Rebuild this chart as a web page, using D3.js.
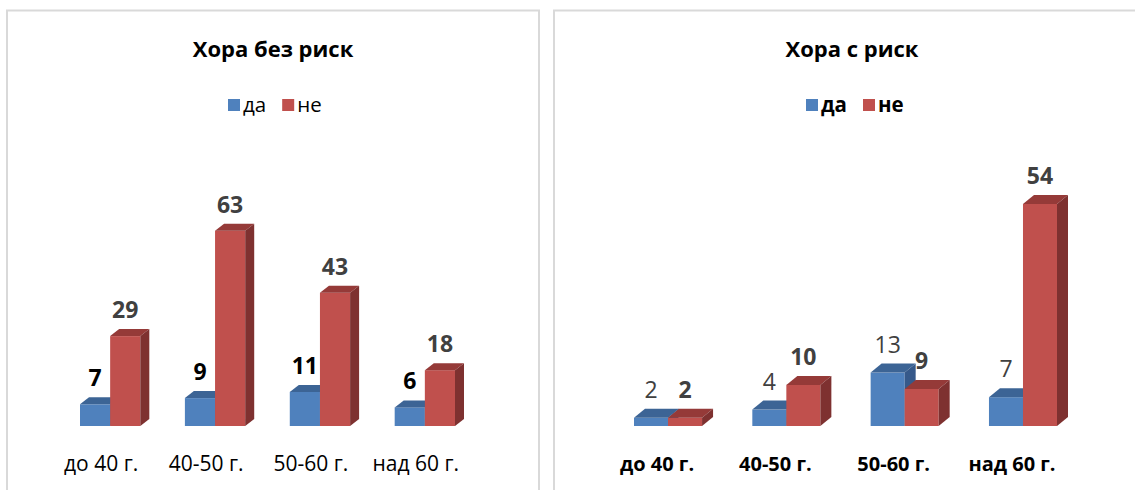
<!DOCTYPE html>
<html>
<head>
<meta charset="utf-8">
<script src="https://cdn.jsdelivr.net/npm/d3@7"></script>
<style>
  body { margin: 0; background: #fff; }
  svg { display: block; font-family: "Open Sans", "Noto Sans", sans-serif; }
</style>
</head>
<body>
<div id="chart"></div>
<script>
const categories = ["до 40 г.", "40-50 г.", "50-60 г.", "над 60 г."];
const seriesNames = ["да", "не"];
const noRiskYes = [7, 9, 11, 6];
const noRiskNo = [29, 63, 43, 18];
const riskYes = [2, 4, 13, 7];
const riskNo = [2, 10, 9, 54];

const W = 1135, H = 490;
const svg = d3.select("#chart").append("svg")
    .attr("width", W)
    .attr("height", H);

const colors = {
    front: ["#4f81bd", "#c0504d"],
    top: ["#3c6495", "#953a38"],
    side: ["#36598a", "#7e3130"]
};

const panels = [
    {
        box: [7, 10.5, 532, 500], title: "Хора без риск", titleX: 273,
        yes: noRiskYes, no: noRiskNo, yMax: 70, yTop: 209, xRange: [80, 455],
        legendX: 228, depth: [9, 7],
        catWeight: "normal", legendWeight: "normal",
        labelStyle: [{fill: "#000", weight: "bold"}, {fill: "#404040", weight: "bold"}]
    },
    {
        box: [554, 10.5, 600, 500], title: "Хора с риск", titleX: 852,
        yes: riskYes, no: riskNo, yMax: 60, yTop: 179.3, xRange: [634, 1057],
        legendX: 806, depth: [11, 9],
        catWeight: "bold", legendWeight: "bold",
        labelStyle: [{fill: "#404040", weight: "normal"}, {fill: "#404040", weight: "bold"}]
    }
];

const baseY = 426;

panels.forEach(p => {
    const g = svg.append("g");

    // рамка
    g.append("rect")
        .attr("x", p.box[0]).attr("y", p.box[1])
        .attr("width", p.box[2]).attr("height", p.box[3])
        .attr("fill", "none")
        .attr("stroke", "#d9d9d9")
        .attr("stroke-width", 2);

    g.append("text")
        .attr("x", p.titleX)
        .attr("y", 57)
        .attr("text-anchor", "middle")
        .style("font-size", "22px")
        .style("font-weight", "bold")
        .text(p.title);

    // легенда
    const legend = g.append("g").attr("transform", `translate(${p.legendX},0)`);
    let lx = 0;
    seriesNames.forEach((name, i) => {
        legend.append("rect")
            .attr("x", lx).attr("y", 99)
            .attr("width", 12).attr("height", 12)
            .attr("fill", colors.front[i]);
        const t = legend.append("text")
            .attr("x", lx + 15)
            .attr("y", 112)
            .style("font-size", "20.5px")
            .style("font-weight", p.legendWeight)
            .text(name);
        lx += 15 + t.node().getComputedTextLength() + 16;
    });

    const x = d3.scaleBand()
        .domain(categories)
        .range(p.xRange)
        .paddingInner(0.425)
        .paddingOuter(0);

    const xs = d3.scaleBand()
        .domain(seriesNames)
        .range([0, x.bandwidth()]);

    const y = d3.scaleLinear()
        .domain([0, p.yMax])
        .range([baseY, p.yTop]);

    const [dx, dy] = p.depth;

    const data = [];
    categories.forEach((c, ci) => {
        [p.yes[ci], p.no[ci]].forEach((v, si) => {
            data.push({cat: c, s: si, name: seriesNames[si], value: v});
        });
    });

    const bars = g.selectAll(".bar")
        .data(data)
        .join("g")
        .attr("class", "bar");

    bars.each(function(d) {
        const b = d3.select(this);
        const x0 = x(d.cat) + xs(d.name);
        const w = xs.bandwidth();
        const y0 = y(d.value);
        const y1 = y(0);
        b.append("rect")
            .attr("x", x0).attr("y", y0)
            .attr("width", w).attr("height", y1 - y0)
            .attr("fill", colors.front[d.s]);
        b.append("path")
            .attr("d", `M${x0},${y0}L${x0 + dx},${y0 - dy}L${x0 + w + dx},${y0 - dy}L${x0 + w},${y0}Z`)
            .attr("fill", colors.top[d.s]);
        b.append("path")
            .attr("d", `M${x0 + w},${y0}L${x0 + w + dx},${y0 - dy}L${x0 + w + dx},${y1 - dy}L${x0 + w},${y1}Z`)
            .attr("fill", colors.side[d.s]);
    });

    g.selectAll(".val")
        .data(data)
        .join("text")
        .attr("class", "val")
        .attr("x", d => x(d.cat) + xs(d.name) + xs.bandwidth() / 2)
        .attr("y", d => y(d.value) - dy - 11)
        .attr("text-anchor", "middle")
        .style("font-size", "23px")
        .style("font-weight", d => p.labelStyle[d.s].weight)
        .attr("fill", d => p.labelStyle[d.s].fill)
        .text(d => d.value);

    g.selectAll(".cat")
        .data(categories)
        .join("text")
        .attr("class", "cat")
        .attr("x", d => x(d) + x.bandwidth() / 2 - dx)
        .attr("y", 471)
        .attr("text-anchor", "middle")
        .style("font-size", p.catWeight === "bold" ? "20px" : "21px")
        .style("font-weight", p.catWeight)
        .text(d => d);
});
</script>
</body>
</html>
